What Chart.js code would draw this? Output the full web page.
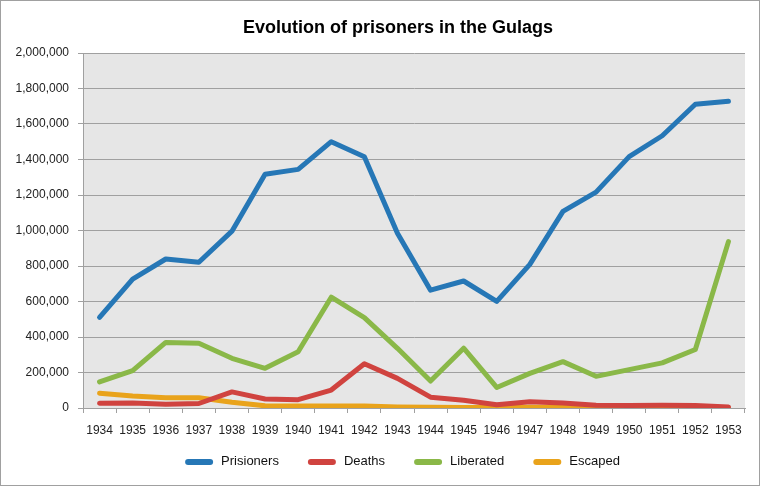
<!DOCTYPE html>
<html>
<head>
<meta charset="utf-8">
<script src="https://cdn.jsdelivr.net/npm/chart.js@4.4.0/dist/chart.umd.min.js"></script>
<style>
  html, body { margin: 0; padding: 0; background: #fff; }
  #wrap { width: 760px; height: 486px; position: relative; }
</style>
</head>
<body>
<div id="wrap"><canvas id="c" width="760" height="486"></canvas></div>
<script>
const years = ['1934','1935','1936','1937','1938','1939','1940','1941','1942','1943','1944','1945','1946','1947','1948','1949','1950','1951','1952','1953'];
const prisoners = [510307, 725483, 839406, 820881, 996367, 1317195, 1344408, 1500524, 1415596, 983974, 663594, 715506, 600897, 808839, 1108057, 1216361, 1416300, 1533767, 1711202, 1727970];
const deaths = [26295, 28328, 20595, 25376, 90546, 50502, 46665, 100997, 248877, 166967, 60948, 43848, 18154, 35668, 27605, 15739, 14703, 15587, 13806, 5825];
const liberated = [147272, 211035, 369544, 364437, 279966, 223622, 316825, 624276, 509538, 336135, 152113, 336750, 115700, 194886, 261148, 178449, 216210, 254269, 329446, 937352];
const escaped = [83490, 67493, 58313, 58264, 32033, 12333, 11813, 10592, 11822, 6242, 3586, 2196, 2642, 3779, 4261, 2583, 2577, 2318, 1253, 785];
const seriesLabels = ['Prisioners', 'Deaths', 'Liberated', 'Escaped'];
const titleText = 'Evolution of prisoners in the Gulags';

const bgPlugin = {
  id: 'bg',
  beforeDraw(chart) {
    const ctx = chart.ctx, a = chart.chartArea;
    ctx.save();
    ctx.fillStyle = '#fff';
    ctx.fillRect(0, 0, chart.width, chart.height);
    ctx.fillStyle = '#e6e6e6';
    ctx.fillRect(a.left, a.top, a.right - a.left, a.bottom - a.top);
    ctx.restore();
  },
  afterDraw(chart) {
    const ctx = chart.ctx;
    ctx.save();
    // outer frame
    ctx.strokeStyle = '#a0a0a0';
    ctx.lineWidth = 1;
    ctx.strokeRect(0.5, 0.5, chart.width - 1, chart.height - 1);
    // title
    ctx.fillStyle = '#000';
    ctx.font = 'bold 18px "Liberation Sans", Arial, sans-serif';
    ctx.textAlign = 'center';
    ctx.textBaseline = 'middle';
    ctx.fillText(titleText, 398, 28);
    // legend
    ctx.font = '13px "Liberation Sans", Arial, sans-serif';
    ctx.textAlign = 'left';
    const sw = 28, gapText = 8, gapItem = 29;
    const items = chart.data.datasets.map(d => ({ label: d.label, color: d.borderColor, w: ctx.measureText(d.label).width }));
    let total = 0;
    items.forEach((it, i) => { total += sw + gapText + it.w + (i < items.length - 1 ? gapItem : 0); });
    let x = 402.5 - total / 2;
    const y = 462;
    items.forEach(it => {
      ctx.strokeStyle = it.color;
      ctx.lineWidth = 6;
      ctx.lineCap = 'round';
      ctx.beginPath();
      ctx.moveTo(x + 3, y);
      ctx.lineTo(x + sw - 3, y);
      ctx.stroke();
      ctx.fillStyle = '#111';
      ctx.fillText(it.label, x + sw + gapText, y - 1);
      x += sw + gapText + it.w + gapItem;
    });
    ctx.restore();
  }
};

function ds(label, data, color) {
  return {
    label, data,
    borderColor: color, backgroundColor: color,
    borderWidth: 5, pointRadius: 0, tension: 0,
    borderCapStyle: 'round', borderJoinStyle: 'round'
  };
}

new Chart(document.getElementById('c'), {
  type: 'line',
  data: {
    labels: years,
    datasets: [
      ds(seriesLabels[0], prisoners, '#2677b6'),
      ds(seriesLabels[1], deaths, '#d0433f'),
      ds(seriesLabels[2], liberated, '#8ab848'),
      ds(seriesLabels[3], escaped, '#e9a31b')
    ]
  },
  plugins: [bgPlugin],
  options: {
    responsive: false,
    animation: false,
    layout: { padding: { left: 0, right: 15, top: 53, bottom: 38 } },
    plugins: {
      title: { display: false },
      legend: { display: false },
      tooltip: { enabled: false }
    },
    scales: {
      x: {
        offset: true,
        grid: { display: true, drawOnChartArea: false, drawTicks: true, tickLength: 5, color: '#a0a0a0', offset: true },
        border: { color: '#a0a0a0' },
        ticks: { color: '#222', font: { family: 'Liberation Sans', size: 12 }, padding: 10, maxRotation: 0, autoSkip: false },
        afterFit(s) { s.height = 40; }
      },
      y: {
        min: 0, max: 2000000,
        grid: { color: '#a0a0a0', tickLength: 5, lineWidth: 1 },
        border: { color: '#a0a0a0' },
        ticks: {
          stepSize: 200000, color: '#222', padding: 9,
          font: { family: 'Liberation Sans', size: 12 },
          callback: v => v.toLocaleString('en-US')
        },
        afterFit(s) { s.width = 83; }
      }
    }
  }
});
</script>
</body>
</html>
